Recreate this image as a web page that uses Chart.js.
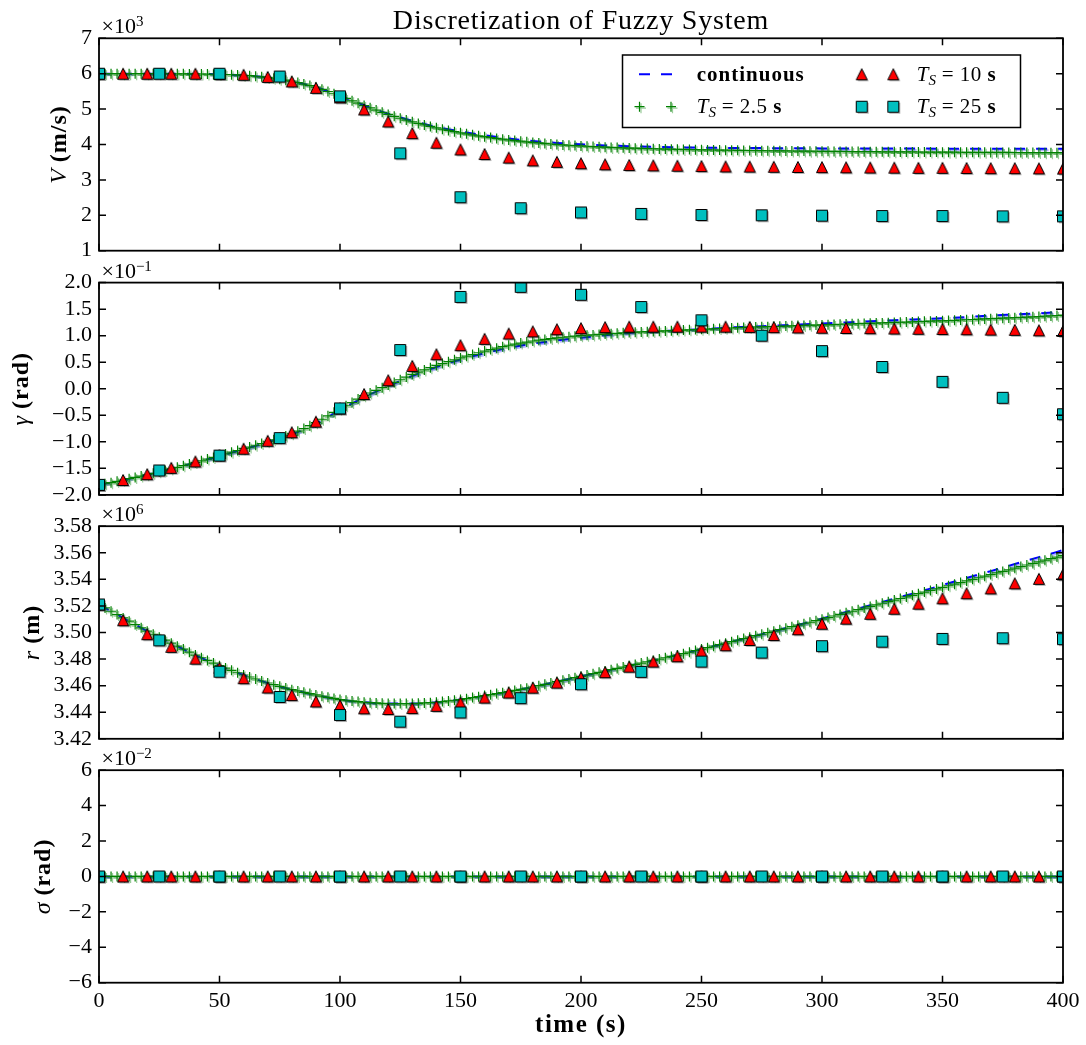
<!DOCTYPE html>
<html>
<head>
<meta charset="utf-8">
<title>Discretization of Fuzzy System</title>
<script src="https://cdn.jsdelivr.net/npm/chart.js@4.4.0/dist/chart.umd.min.js"></script>
<style>
  html, body { margin: 0; padding: 0; background: #fff; }
  #wrap { position: relative; width: 1086px; height: 1045px; }
  #wrap canvas { position: absolute; left: 0; top: 0; }
</style>
</head>
<body>
<div id="wrap">
  <canvas id="pV" width="1086" height="1045"></canvas>
  <canvas id="pGamma" width="1086" height="1045"></canvas>
  <canvas id="pR" width="1086" height="1045"></canvas>
  <canvas id="pSigma" width="1086" height="1045"></canvas>
</div>
<script>
// ---- sampling instants (s) ----
const steps = (dt, end) => {
  const out = [];
  for (let t = 0; t <= end + 1e-9; t += dt) out.push(t);
  return out;
};
const tCont = steps(10, 400);  // continuous solution, printed every 10 s
const tFine = steps(2.5, 400); // T_S = 2.5 s
const t10 = steps(10, 400);    // T_S = 10 s
const t25 = steps(25, 400);    // T_S = 25 s
const xTickValues = [0, 50, 100, 150, 200, 250, 300, 350, 400];

// ---- V, in 1e3 m/s ----
const vCont = [6.000, 6.000, 6.000, 5.998, 5.993, 5.982, 5.955, 5.895, 5.790, 5.620,
  5.375, 5.110, 4.870, 4.670, 4.500, 4.370, 4.260, 4.170, 4.100, 4.045,
  4.005, 3.975, 3.952, 3.935, 3.922, 3.912, 3.905, 3.900, 3.896, 3.893,
  3.890, 3.888, 3.886, 3.885, 3.884, 3.883, 3.882, 3.881, 3.880, 3.880, 3.879];
const vTs2 = [
  6.000, 6.000, 6.000, 6.000, 6.000, 6.000, 6.000, 6.000,
  6.000, 6.000, 5.999, 5.999, 5.998, 5.997, 5.996, 5.995,
  5.993, 5.991, 5.988, 5.985, 5.982, 5.977, 5.971, 5.964,
  5.955, 5.943, 5.928, 5.912, 5.895, 5.871, 5.845, 5.818,
  5.790, 5.750, 5.708, 5.665, 5.620, 5.560, 5.497, 5.434,
  5.370, 5.302, 5.234, 5.167, 5.100, 5.035, 4.972, 4.910,
  4.850, 4.795, 4.742, 4.690, 4.640, 4.595, 4.552, 4.510,
  4.470, 4.433, 4.397, 4.363, 4.330, 4.301, 4.273, 4.246,
  4.220, 4.196, 4.173, 4.151, 4.130, 4.111, 4.093, 4.076,
  4.060, 4.044, 4.029, 4.014, 4.000, 3.989, 3.979, 3.969,
  3.960, 3.951, 3.942, 3.933, 3.925, 3.918, 3.912, 3.906,
  3.900, 3.895, 3.890, 3.885, 3.880, 3.876, 3.872, 3.868,
  3.865, 3.861, 3.857, 3.853, 3.850, 3.847, 3.845, 3.842,
  3.840, 3.837, 3.835, 3.832, 3.830, 3.828, 3.826, 3.824,
  3.822, 3.820, 3.818, 3.817, 3.815, 3.813, 3.811, 3.810,
  3.808, 3.806, 3.805, 3.803, 3.802, 3.801, 3.799, 3.798,
  3.797, 3.796, 3.794, 3.793, 3.792, 3.791, 3.790, 3.789,
  3.788, 3.787, 3.786, 3.785, 3.784, 3.783, 3.782, 3.781,
  3.780, 3.779, 3.779, 3.778, 3.777, 3.776, 3.775, 3.775,
  3.774, 3.773, 3.773, 3.772, 3.771, 3.770, 3.770, 3.769,
  3.768];
const vTs10 = [6.00, 6.00, 6.00, 6.00, 6.00, 5.99, 5.97, 5.91, 5.78, 5.60,
  5.33, 4.99, 4.65, 4.32, 4.05, 3.86, 3.73, 3.63, 3.55, 3.51,
  3.47, 3.44, 3.42, 3.41, 3.40, 3.39, 3.38, 3.375, 3.37, 3.365,
  3.36, 3.355, 3.35, 3.345, 3.34, 3.34, 3.335, 3.33, 3.33, 3.325, 3.32];
const vTs25 = [6.00, 6.00, 6.00, 5.92, 5.36, 3.75, 2.51, 2.20, 2.08,
  2.04, 2.01, 2.00, 1.99, 1.98, 1.98, 1.97, 1.97];

// ---- flight path angle gamma, in 1e-1 rad ----
const gCont = [-1.81, -1.72, -1.62, -1.51, -1.39, -1.27, -1.14, -1.01, -0.86, -0.66,
  -0.40, -0.16, 0.05, 0.24, 0.41, 0.55, 0.67, 0.77, 0.85, 0.91,
  0.96, 1.01, 1.05, 1.08, 1.10, 1.12, 1.15, 1.17, 1.19, 1.21,
  1.23, 1.25, 1.27, 1.29, 1.31, 1.33, 1.35, 1.38, 1.40, 1.42, 1.45];
const gTs2 = [
  -1.810, -1.790, -1.770, -1.745, -1.720, -1.695, -1.670, -1.645,
  -1.620, -1.593, -1.565, -1.538, -1.510, -1.480, -1.450, -1.420,
  -1.390, -1.358, -1.325, -1.293, -1.260, -1.228, -1.195, -1.163,
  -1.130, -1.098, -1.065, -1.033, -1.000, -0.963, -0.925, -0.888,
  -0.850, -0.800, -0.750, -0.695, -0.640, -0.575, -0.510, -0.445,
  -0.380, -0.320, -0.260, -0.195, -0.130, -0.080, -0.030, 0.020,
  0.070, 0.120, 0.170, 0.220, 0.270, 0.313, 0.355, 0.398,
  0.440, 0.475, 0.510, 0.545, 0.580, 0.613, 0.645, 0.678,
  0.710, 0.738, 0.765, 0.793, 0.820, 0.840, 0.860, 0.880,
  0.900, 0.915, 0.930, 0.945, 0.960, 0.970, 0.980, 0.990,
  1.000, 1.008, 1.015, 1.023, 1.030, 1.038, 1.045, 1.053,
  1.060, 1.065, 1.070, 1.075, 1.080, 1.085, 1.090, 1.095,
  1.100, 1.105, 1.110, 1.115, 1.120, 1.125, 1.130, 1.135,
  1.140, 1.145, 1.150, 1.155, 1.160, 1.163, 1.167, 1.170,
  1.173, 1.177, 1.180, 1.185, 1.190, 1.193, 1.197, 1.200,
  1.203, 1.207, 1.210, 1.215, 1.220, 1.223, 1.227, 1.230,
  1.233, 1.237, 1.240, 1.245, 1.250, 1.253, 1.257, 1.260,
  1.265, 1.270, 1.273, 1.277, 1.280, 1.285, 1.290, 1.295,
  1.300, 1.305, 1.310, 1.315, 1.320, 1.325, 1.330, 1.335,
  1.340, 1.345, 1.350, 1.355, 1.360, 1.367, 1.373, 1.380,
  1.387];
const gTs10 = [-1.81, -1.72, -1.61, -1.49, -1.37, -1.25, -1.13, -0.98, -0.82, -0.62,
  -0.37, -0.10, 0.16, 0.43, 0.65, 0.82, 0.94, 1.04, 1.08, 1.12,
  1.14, 1.16, 1.17, 1.17, 1.17, 1.17, 1.17, 1.165, 1.16, 1.155,
  1.15, 1.145, 1.14, 1.135, 1.13, 1.125, 1.12, 1.115, 1.11, 1.10, 1.09];
const gTs25 = [-1.81, -1.54, -1.26, -0.93, -0.37, 0.73, 1.73, 1.92, 1.77,
  1.54, 1.29, 1.00, 0.71, 0.41, 0.13, -0.17, -0.48];

// ---- radius r, in 1e6 m ----
const rCont = [3.5210, 3.5110, 3.5010, 3.4920, 3.4830, 3.4750, 3.4680, 3.4620, 3.4570, 3.4530,
  3.4495, 3.4475, 3.4465, 3.4465, 3.4475, 3.4495, 3.4525, 3.4555, 3.4590, 3.4630,
  3.4670, 3.4710, 3.4750, 3.4790, 3.4830, 3.4875, 3.4920, 3.4965, 3.5010, 3.5057,
  3.5105, 3.5155, 3.5205, 3.5255, 3.5305, 3.5357, 3.5410, 3.5462, 3.5515, 3.5567, 3.5620];
const rTs2 = [
  3.5210, 3.5185, 3.5160, 3.5135, 3.5110, 3.5085, 3.5060, 3.5035,
  3.5010, 3.4987, 3.4965, 3.4942, 3.4920, 3.4897, 3.4875, 3.4852,
  3.4830, 3.4810, 3.4790, 3.4770, 3.4750, 3.4732, 3.4715, 3.4697,
  3.4680, 3.4665, 3.4650, 3.4635, 3.4620, 3.4607, 3.4595, 3.4582,
  3.4570, 3.4560, 3.4550, 3.4540, 3.4530, 3.4521, 3.4512, 3.4504,
  3.4495, 3.4490, 3.4485, 3.4480, 3.4475, 3.4472, 3.4470, 3.4467,
  3.4465, 3.4465, 3.4465, 3.4465, 3.4465, 3.4467, 3.4470, 3.4472,
  3.4475, 3.4480, 3.4485, 3.4490, 3.4495, 3.4502, 3.4510, 3.4517,
  3.4525, 3.4532, 3.4540, 3.4547, 3.4555, 3.4564, 3.4572, 3.4581,
  3.4590, 3.4600, 3.4610, 3.4620, 3.4630, 3.4640, 3.4650, 3.4660,
  3.4670, 3.4680, 3.4690, 3.4700, 3.4710, 3.4720, 3.4730, 3.4740,
  3.4750, 3.4760, 3.4770, 3.4780, 3.4790, 3.4800, 3.4810, 3.4820,
  3.4830, 3.4841, 3.4852, 3.4864, 3.4875, 3.4886, 3.4897, 3.4909,
  3.4920, 3.4931, 3.4942, 3.4954, 3.4965, 3.4976, 3.4987, 3.4999,
  3.5010, 3.5021, 3.5032, 3.5044, 3.5055, 3.5066, 3.5077, 3.5089,
  3.5100, 3.5112, 3.5124, 3.5136, 3.5148, 3.5160, 3.5172, 3.5184,
  3.5196, 3.5208, 3.5220, 3.5232, 3.5244, 3.5256, 3.5268, 3.5280,
  3.5292, 3.5304, 3.5316, 3.5328, 3.5340, 3.5352, 3.5364, 3.5376,
  3.5388, 3.5400, 3.5412, 3.5424, 3.5436, 3.5448, 3.5460, 3.5472,
  3.5484, 3.5496, 3.5508, 3.5520, 3.5532, 3.5544, 3.5556, 3.5568,
  3.5580];
const rTs10 = [3.5210, 3.5092, 3.4987, 3.4892, 3.4803, 3.4735, 3.4656, 3.4586, 3.4529, 3.4481,
  3.4452, 3.4429, 3.4424, 3.4431, 3.4448, 3.4473, 3.4510, 3.4548, 3.4585, 3.4623,
  3.4661, 3.4701, 3.4743, 3.4781, 3.4821, 3.4861, 3.4904, 3.4944, 3.4981, 3.5024,
  3.5066, 3.5104, 3.5141, 3.5179, 3.5217, 3.5257, 3.5295, 3.5332, 3.5370, 3.5404, 3.5437];
const rTs25 = [3.5211, 3.4941, 3.4705, 3.4515, 3.4379, 3.4329, 3.4398, 3.4506, 3.4611,
  3.4704, 3.4781, 3.4849, 3.4897, 3.4931, 3.4952, 3.4957, 3.4950];

// ---- bank angle sigma, in 1e-2 rad ----
const sCont = [0, 0, 0, 0, 0, 0, 0, 0, 0, 0, 0, 0, 0, 0, 0, 0, 0, 0, 0, 0,
  0, 0, 0, 0, 0, 0, 0, 0, 0, 0, 0, 0, 0, 0, 0, 0, 0, 0, 0, 0, 0];
const sTs2 = [
  0, 0, 0, 0, 0, 0, 0, 0, 0, 0, 0, 0, 0, 0, 0, 0, 0, 0, 0, 0,
  0, 0, 0, 0, 0, 0, 0, 0, 0, 0, 0, 0, 0, 0, 0, 0, 0, 0, 0, 0,
  0, 0, 0, 0, 0, 0, 0, 0, 0, 0, 0, 0, 0, 0, 0, 0, 0, 0, 0, 0,
  0, 0, 0, 0, 0, 0, 0, 0, 0, 0, 0, 0, 0, 0, 0, 0, 0, 0, 0, 0,
  0, 0, 0, 0, 0, 0, 0, 0, 0, 0, 0, 0, 0, 0, 0, 0, 0, 0, 0, 0,
  0, 0, 0, 0, 0, 0, 0, 0, 0, 0, 0, 0, 0, 0, 0, 0, 0, 0, 0, 0,
  0, 0, 0, 0, 0, 0, 0, 0, 0, 0, 0, 0, 0, 0, 0, 0, 0, 0, 0, 0,
  0, 0, 0, 0, 0, 0, 0, 0, 0, 0, 0, 0, 0, 0, 0, 0, 0, 0, 0, 0,
  0];
const sTs10 = [0, 0, 0, 0, 0, 0, 0, 0, 0, 0, 0, 0, 0, 0, 0, 0, 0, 0, 0, 0,
  0, 0, 0, 0, 0, 0, 0, 0, 0, 0, 0, 0, 0, 0, 0, 0, 0, 0, 0, 0, 0];
const sTs25 = [0, 0, 0, 0, 0, 0, 0, 0, 0, 0, 0, 0, 0, 0, 0, 0, 0];

const SERIF = "'Liberation Serif', 'DejaVu Serif', serif";
const BLUE = "#0000ff";
const GREEN = "#008000";
const RED = "#ff0000";
const CYAN = "#00bfbf";

const panels = [
  { id: "pV", top: 38.3, bottom: 250.7, min: 1, max: 7, step: 1, digits: 0, exp: "3",
    label: [["V", "italic"], [" (m/s)", "bold"]], labelX: 59,
    series: [vCont, vTs2, vTs10, vTs25] },
  { id: "pGamma", top: 282.6, bottom: 494.9, min: -2, max: 2, step: 0.5, digits: 1, exp: "\u22121",
    label: [["\u03b3", "italic"], [" (rad)", "bold"]], labelX: 21,
    series: [gCont, gTs2, gTs10, gTs25] },
  { id: "pR", top: 526.2, bottom: 738.8, min: 3.42, max: 3.58, step: 0.02, digits: 2, exp: "6",
    label: [["r", "italic"], [" (m)", "bold"]], labelX: 32,
    series: [rCont, rTs2, rTs10, rTs25] },
  { id: "pSigma", top: 770.2, bottom: 982.7, min: -6, max: 6, step: 2, digits: 0, exp: "\u22122",
    label: [["\u03c3", "italic"], [" (rad)", "bold"]], labelX: 43,
    series: [sCont, sTs2, sTs10, sTs25] },
];

// marker bitmaps with a soft drop shadow
function markerCanvas(shape, fill) {
  const c = document.createElement("canvas");
  c.width = 18;
  c.height = 18;
  const g = c.getContext("2d");
  const path = (d) => {
    g.beginPath();
    if (shape === "tri") {
      g.moveTo(9 + d, 3.5 + d);
      g.lineTo(14.5 + d, 14.5 + d);
      g.lineTo(3.5 + d, 14.5 + d);
      g.closePath();
    } else {
      g.rect(3.5 + d, 3.5 + d, 11, 11);
    }
  };
  path(1.5);
  g.fillStyle = "rgba(0,0,0,0.3)";
  g.fill();
  path(0);
  g.fillStyle = fill;
  g.fill();
  g.lineWidth = 1;
  g.strokeStyle = "#000";
  g.stroke();
  return c;
}
const triMarker = markerCanvas("tri", RED);
const sqMarker = markerCanvas("sq", CYAN);

const pts = (ts, vs) => ts.map((t, i) => ({ x: t, y: vs[i] }));
const fmt = (v, d) => {
  const s = Math.abs(v) < 1e-9 ? (0).toFixed(d) : v.toFixed(d);
  return s.replace("-", "\u2212");
};

function drawRuns(ctx, runs, x, y, align) {
  let w = 0;
  runs.forEach((r) => {
    ctx.font = r.font;
    ctx.letterSpacing = r.ls || "0px";
    w += ctx.measureText(r.text).width;
  });
  let cx = align === "center" ? x - w / 2 : x;
  runs.forEach((r) => {
    ctx.font = r.font;
    ctx.letterSpacing = r.ls || "0px";
    ctx.fillText(r.text, cx, y + (r.dy || 0));
    cx += ctx.measureText(r.text).width;
  });
  ctx.letterSpacing = "0px";
}

function drawCross(ctx, x, y) {
  ctx.save();
  ctx.lineWidth = 1.2;
  ctx.strokeStyle = "rgba(0,128,0,0.4)";
  ctx.beginPath();
  ctx.moveTo(x - 5 + 1.5, y + 1.5); ctx.lineTo(x + 5 + 1.5, y + 1.5);
  ctx.moveTo(x + 1.5, y - 5 + 1.5); ctx.lineTo(x + 1.5, y + 5 + 1.5);
  ctx.stroke();
  ctx.strokeStyle = GREEN;
  ctx.beginPath();
  ctx.moveTo(x - 5, y); ctx.lineTo(x + 5, y);
  ctx.moveTo(x, y - 5); ctx.lineTo(x, y + 5);
  ctx.stroke();
  ctx.restore();
}

function drawLegend(ctx) {
  ctx.save();
  ctx.fillStyle = "#fff";
  ctx.fillRect(622.5, 55, 398, 72.5);
  ctx.lineWidth = 1.5;
  ctx.strokeStyle = "#000";
  ctx.strokeRect(622.5, 55, 398, 72.5);
  const r1 = 74.3, r2 = 106.7;

  ctx.strokeStyle = BLUE;
  ctx.lineWidth = 2;
  ctx.setLineDash([11, 11]);
  ctx.beginPath();
  ctx.moveTo(639, r1);
  ctx.lineTo(672, r1);
  ctx.stroke();
  ctx.setLineDash([]);

  drawCross(ctx, 639.5, r2);
  drawCross(ctx, 671, r2);
  [861.7, 893.3].forEach((x) => {
    ctx.drawImage(triMarker, x - 9, r1 - 9);
    ctx.drawImage(sqMarker, x - 9, r2 - 9);
  });

  ctx.fillStyle = "#000";
  ctx.textBaseline = "alphabetic";
  const ts = (n) => [
    { text: "T", font: `italic 21px ${SERIF}` },
    { text: "S", font: `italic 15px ${SERIF}`, dy: 4 },
    { text: " = " + n + " ", font: `21px ${SERIF}`, ls: "0.5px" },
    { text: "s", font: `bold 21px ${SERIF}` },
  ];
  drawRuns(ctx, [{ text: "continuous", font: `bold 21px ${SERIF}`, ls: "1px" }], 696.7, r1 + 6.5, "left");
  drawRuns(ctx, ts("2.5"), 696.7, r2 + 6.5, "left");
  drawRuns(ctx, ts("10"), 916.7, r1 + 6.5, "left");
  drawRuns(ctx, ts("25"), 916.7, r2 + 6.5, "left");
  ctx.restore();
}

// frame with inward ticks on all four sides, axis labels and scale notes
function decor(p, idx) {
  return {
    id: "decor",
    beforeDatasetDraw(chart, args) {
      const ds = chart.data.datasets[args.index];
      const c = chart.ctx;
      const a = chart.chartArea;
      c.save();
      // markers are cut at the axes frame
      c.beginPath();
      c.rect(a.left, a.top, a.right - a.left, a.bottom - a.top);
      c.clip();
      if (ds.shadow) {
        c.shadowColor = ds.shadow;
        c.shadowOffsetX = 1.5;
        c.shadowOffsetY = 1.5;
      }
    },
    afterDatasetDraw(chart) {
      chart.ctx.restore();
    },
    afterDraw(chart) {
      const { ctx, chartArea: a, scales } = chart;
      ctx.save();
      ctx.strokeStyle = "#000";
      ctx.lineWidth = 1.5;
      ctx.beginPath();
      xTickValues.forEach((v) => {
        const px = scales.x.getPixelForValue(v);
        ctx.moveTo(px, a.bottom); ctx.lineTo(px, a.bottom - 7);
        ctx.moveTo(px, a.top); ctx.lineTo(px, a.top + 7);
      });
      scales.y.ticks.forEach((t) => {
        const py = scales.y.getPixelForValue(t.value);
        ctx.moveTo(a.left, py); ctx.lineTo(a.left + 7, py);
        ctx.moveTo(a.right, py); ctx.lineTo(a.right - 7, py);
      });
      ctx.stroke();
      ctx.lineWidth = 1.8;
      ctx.strokeRect(a.left, a.top, a.right - a.left, a.bottom - a.top);

      ctx.fillStyle = "#000";
      ctx.textBaseline = "alphabetic";
      // scale note above the frame
      drawRuns(ctx, [
        { text: "\u00d710", font: `22px ${SERIF}` },
        { text: p.exp, font: `15px ${SERIF}`, dy: -7 },
      ], a.left + 2.5, a.top - 5, "left");

      // y axis label, rotated
      ctx.save();
      ctx.translate(p.labelX, (a.top + a.bottom) / 2);
      ctx.rotate(-Math.PI / 2);
      drawRuns(ctx, p.label.map(([text, style]) => ({
        text, font: `${style} 24px ${SERIF}`, ls: style === "bold" ? "1px" : "0px",
      })), 0, 7, "center");
      ctx.restore();

      if (idx === 0) {
        drawRuns(ctx, [{ text: "Discretization of Fuzzy System", font: `28px ${SERIF}`, ls: "0.8px" }],
          581, 29, "center");
        drawLegend(ctx);
      }
      if (idx === panels.length - 1) {
        drawRuns(ctx, [{ text: "time (s)", font: `bold 25px ${SERIF}`, ls: "1.5px" }],
          581, 1032, "center");
      }
      ctx.restore();
    },
  };
}

panels.forEach((p, idx) => {
  const last = idx === panels.length - 1;
  const [cont, ts2, ts10, ts25] = p.series;
  const tickFont = { family: SERIF, size: 22 };
  new Chart(document.getElementById(p.id), {
    type: "line",
    data: {
      datasets: [
        {
          label: "continuous",
          data: pts(tCont, cont),
          borderColor: BLUE,
          borderWidth: 2,
          borderDash: [11, 11],
          pointRadius: 0,
          cubicInterpolationMode: "monotone",
          shadow: "rgba(0,0,255,0.3)",
          clip: false,
          order: 4,
        },
        {
          label: "T_S = 2.5 s",
          data: pts(tFine, ts2),
          showLine: false,
          pointStyle: "cross",
          pointRadius: 5,
          pointBorderColor: GREEN,
          pointBorderWidth: 1.2,
          shadow: "rgba(0,128,0,0.4)",
          clip: false,
          order: 3,
        },
        {
          label: "T_S = 10 s",
          data: pts(t10, ts10),
          showLine: false,
          pointStyle: triMarker,
          pointRadius: 6,
          clip: false,
          order: 2,
        },
        {
          label: "T_S = 25 s",
          data: pts(t25, ts25),
          showLine: false,
          pointStyle: sqMarker,
          pointRadius: 6,
          clip: false,
          order: 1,
        },
      ],
    },
    options: {
      responsive: false,
      animation: false,
      events: [],
      layout: {
        padding: { left: 0, right: 23, top: p.top, bottom: last ? 0 : 1045 - p.bottom },
      },
      plugins: {
        legend: { display: false },
        tooltip: { enabled: false },
      },
      scales: {
        x: {
          type: "linear",
          min: 0,
          max: 400,
          grid: { display: false, drawTicks: false },
          border: { display: false },
          ticks: {
            display: last,
            stepSize: 50,
            padding: 5,
            maxRotation: 0,
            autoSkip: false,
            font: tickFont,
            color: "#000",
          },
          afterFit: (s) => { s.height = last ? 1045 - p.bottom : 0; },
        },
        y: {
          type: "linear",
          min: p.min,
          max: p.max,
          grid: { display: false, drawTicks: false },
          border: { display: false },
          ticks: {
            stepSize: p.step,
            padding: 7,
            autoSkip: false,
            font: tickFont,
            color: "#000",
            callback: (v) => fmt(v, p.digits),
          },
          afterFit: (s) => { s.width = 99; },
        },
      },
    },
    plugins: [decor(p, idx)],
  });
});
</script>
</body>
</html>
